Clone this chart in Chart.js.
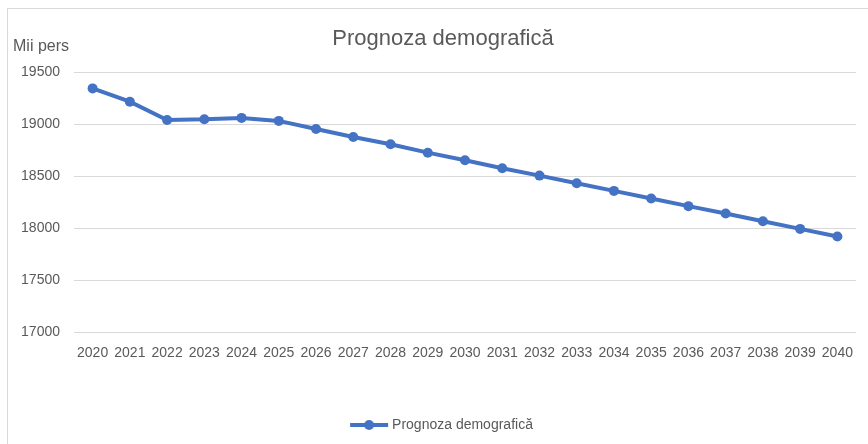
<!DOCTYPE html>
<html>
<head>
<meta charset="utf-8">
<script src="https://cdn.jsdelivr.net/npm/chart.js@4"></script>
<style>
  html, body { margin: 0; padding: 0; background: #fff; overflow: hidden; }
  #wrap { position: relative; width: 868px; height: 444px; }
  #frame { position: absolute; left: 7px; top: 8px; width: 900px; height: 500px;
           border: 1px solid #d9d9d9; pointer-events: none; }
</style>
</head>
<body>
<div id="wrap">
  <canvas id="lineChart" width="868" height="444"></canvas>
  <div id="frame"></div>
</div>
<script>
// Prognoza demografica 2020-2040, mii persoane

const years = ['2020', '2021', '2022', '2023', '2024', '2025', '2026', '2027', '2028', '2029', '2030',
               '2031', '2032', '2033', '2034', '2035', '2036', '2037', '2038', '2039', '2040'];

const populatie = [19346, 19218, 19042, 19048, 19062, 19033, 18955, 18878, 18808, 18727, 18654,
                   18577, 18506, 18433, 18359, 18286, 18212, 18141, 18067, 17993, 17920];

const yTicks = [17000, 17500, 18000, 18500, 19000, 19500];

const seriesName = 'Prognoza demografică';
const blue = '#4472C4';
const textGrey = '#595959';
const fontFamily = "'Liberation Sans', Arial, sans-serif";

// legend marker: short line with a dot in the middle
function legendMarker() {
    const c = document.createElement('canvas');
    c.width = 40;
    c.height = 12;
    const g = c.getContext('2d');
    g.strokeStyle = blue;
    g.lineWidth = 4;
    g.beginPath();
    g.moveTo(1, 6);
    g.lineTo(39, 6);
    g.stroke();
    g.fillStyle = blue;
    g.beginPath();
    g.arc(20, 6, 5, 0, Math.PI * 2);
    g.fill();
    return c;
}

// "Mii pers" sits above the y axis, not rotated
const unitLabel = {
    id: 'unitLabel',
    afterDraw(chart) {
        const ctx = chart.ctx;
        ctx.save();
        ctx.font = '16px ' + fontFamily;
        ctx.fillStyle = textGrey;
        ctx.textBaseline = 'middle';
        ctx.textAlign = 'left';
        ctx.fillText('Mii pers', 13, 47);
        ctx.restore();
    }
};

// the original frame is wider than the picture, so title and legend sit a bit right of center
const shiftBlocks = {
    id: 'shiftBlocks',
    afterLayout(chart) {
        [chart.titleBlock, chart.legend].forEach(b => {
            if (b) { b.left += 15; b.right += 15; }
        });
    }
};

const ctx = document.getElementById('lineChart').getContext('2d');
const lineChart = new Chart(ctx, {
    type: 'line',
    data: {
        labels: years,
        datasets: [{
            label: seriesName,
            data: populatie,
            borderColor: blue,
            backgroundColor: blue,
            borderWidth: 4,
            pointRadius: 5,
            pointBackgroundColor: blue,
            pointBorderWidth: 0,
            tension: 0
        }]
    },
    options: {
        responsive: false,
        animation: false,
        layout: {
            padding: { left: 0, right: 12, top: 0, bottom: 2 }
        },
        plugins: {
            title: {
                display: true,
                text: seriesName,
                color: textGrey,
                font: { family: fontFamily, size: 22, weight: 'normal' },
                padding: { top: 26, bottom: 20 }
            },
            legend: {
                position: 'bottom',
                labels: {
                    usePointStyle: true,
                    pointStyle: legendMarker(),
                    pointStyleWidth: 32,
                    color: textGrey,
                    font: { family: fontFamily, size: 14 },
                    padding: 8
                }
            },
            tooltip: { enabled: false }
        },
        scales: {
            x: {
                offset: true,
                grid: { display: false, drawTicks: false },
                border: { display: false },
                ticks: {
                    color: textGrey,
                    font: { family: fontFamily, size: 14 },
                    maxRotation: 0,
                    autoSkip: false,
                    padding: 13
                },
                afterFit: (scale) => { scale.height = 78; }
            },
            y: {
                min: 17000,
                max: 19500,
                afterBuildTicks: (scale) => { scale.ticks = yTicks.map(v => ({ value: v })); },
                grid: { color: '#d9d9d9', lineWidth: 1, drawTicks: false },
                border: { display: false },
                ticks: {
                    color: textGrey,
                    font: { family: fontFamily, size: 14 },
                    padding: 14,
                    callback: (v) => String(v)
                },
                afterFit: (scale) => { scale.width = 74; }
            }
        }
    },
    plugins: [unitLabel, shiftBlocks]
});
</script>
</body>
</html>
